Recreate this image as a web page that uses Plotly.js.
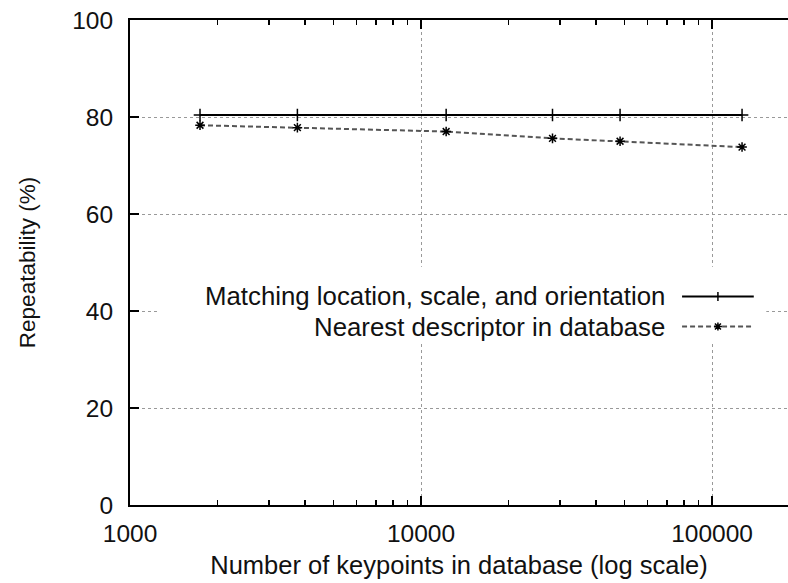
<!DOCTYPE html>
<html><head><meta charset="utf-8">
<script src="https://cdn.plot.ly/plotly-3.0.1.min.js"></script>
<style>html,body{margin:0;padding:0;background:#fff}#chart{width:788px;height:583px}</style>
</head><body><div id="chart"></div>
<script>
// Data
const keypoints = [1740, 3760, 12200, 28300, 48300, 126800];
const matchingLocation = [80.4, 80.4, 80.4, 80.4, 80.4, 80.4];
const nearestDescriptor = [78.3, 77.8, 77.0, 75.6, 75.0, 73.8];
const seriesNames = ["Matching location, scale, and orientation", "Nearest descriptor in database"];
const xTickVals = [1000, 10000, 100000];
const xTickText = ["1000", "10000", "100000"];
const yTickVals = [0, 20, 40, 60, 80, 100];
const xMinorVals = [2000, 3000, 4000, 5000, 6000, 7000, 8000, 9000,
                    20000, 30000, 40000, 50000, 60000, 70000, 80000, 90000, 200000];

const FONT = "Liberation Sans, Arial, sans-serif";
const TXT = "#111";
const X_RANGE = [3, 5.261], Y_RANGE = [0, 100];

// legend layout, as fractions of the plot area
const legTextX = 0.816, legRowY = [0.43, 0.368], legLine = [0.839, 0.948];
const legMid = (legLine[0] + legLine[1]) / 2;

const solidLine = {color: "#000", width: 2};
const dashLine = {color: "#555", width: 2, dash: "5px,3px"};
const plusMarker = {symbol: "cross-thin-open", size: 9, color: "#000", line: {width: 1.5, color: "#000"}};
const starMarker = {symbol: "asterisk-open", size: 8, color: "#000", line: {width: 1.5, color: "#000"}};

const traces = [
  {x: keypoints, y: matchingLocation, type: "scatter", mode: "lines+markers", name: seriesNames[0], line: solidLine, marker: plusMarker},
  {x: keypoints, y: nearestDescriptor, type: "scatter", mode: "lines+markers", name: seriesNames[1], line: dashLine, marker: starMarker}
];

const dom = {xref: "x domain", yref: "y domain", layer: "above"};
const pix = (xa, ya, path) => Object.assign({type: "path", xsizemode: "pixel", ysizemode: "pixel", xanchor: xa, yanchor: ya, path: path, line: {color: "#000", width: 1.5}}, dom);

const layout = {
  width: 788, height: 583,
  margin: {l: 130, r: 0, t: 20, b: 78},
  paper_bgcolor: "#fff", plot_bgcolor: "#fff",
  showlegend: false,
  font: {family: FONT, size: 24, color: TXT},
  xaxis: {
    type: "log", range: X_RANGE,
    tickvals: xTickVals, ticktext: xTickText,
    ticks: "inside", ticklen: 9, tickwidth: 1.5, tickcolor: "#000",
    minor: {tickvals: xMinorVals, ticks: "inside", ticklen: 5, tickwidth: 1.5, tickcolor: "#000", showgrid: false},
    showline: true, linecolor: "#000", linewidth: 2, mirror: "ticks",
    showgrid: true, gridcolor: "#999", gridwidth: 1, griddash: "dot",
    zeroline: false, ticklabelstandoff: 6,
    tickfont: {family: FONT, size: 24.5, color: TXT},
    title: {text: "Number of keypoints in database (log scale)", font: {family: FONT, size: 25.5, color: TXT}, standoff: 10}
  },
  yaxis: {
    range: Y_RANGE, tickvals: yTickVals,
    ticks: "inside", ticklen: 9, tickwidth: 1.5, tickcolor: "#000",
    showline: true, linecolor: "#000", linewidth: 2,
    showgrid: true, gridcolor: "#999", gridwidth: 1, griddash: "dot",
    zeroline: false, ticklabelstandoff: 10,
    tickfont: {family: FONT, size: 24.5, color: TXT},
    title: {text: "Repeatability (%)", font: {family: FONT, size: 22.5, color: TXT}, standoff: 30}
  },
  shapes: [
    // opaque key box that hides the grid behind the key
    Object.assign({type: "rect", x0: 0.041, x1: 0.967, y0: 0.334, y1: 0.491, fillcolor: "#fff", line: {width: 0}}, dom),
    // key samples
    Object.assign({type: "line", x0: legLine[0], x1: legLine[1], y0: legRowY[0], y1: legRowY[0], line: solidLine}, dom),
    pix(legMid, legRowY[0], "M0,-4.5 L0,4.5"),
    Object.assign({type: "line", x0: legLine[0], x1: legLine[1], y0: legRowY[1], y1: legRowY[1], line: dashLine}, dom),
    pix(legMid, legRowY[1], "M-4,0 L4,0 M0,-4 L0,4 M-3,-3 L3,3 M-3,3 L3,-3")
  ],
  annotations: [
    {xref: "x domain", yref: "y domain", x: legTextX, y: legRowY[0], xanchor: "right", yanchor: "middle", showarrow: false, text: seriesNames[0], font: {family: FONT, size: 25.8, color: TXT}},
    {xref: "x domain", yref: "y domain", x: legTextX, y: legRowY[1], xanchor: "right", yanchor: "middle", showarrow: false, text: seriesNames[1], font: {family: FONT, size: 25.8, color: TXT}}
  ]
};

Plotly.newPlot("chart", traces, layout, {staticPlot: true, displayModeBar: false});
</script>
</body></html>
